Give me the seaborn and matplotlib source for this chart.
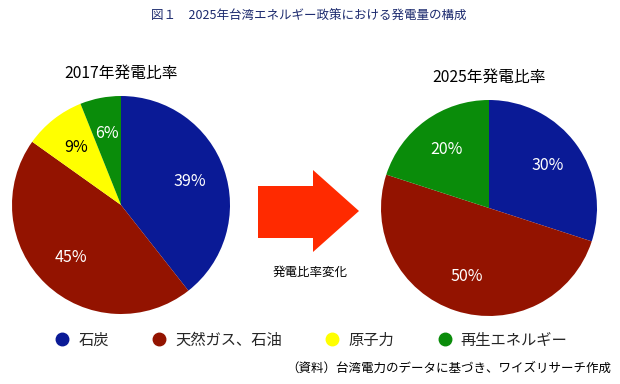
import matplotlib
matplotlib.use("Agg")
import matplotlib.pyplot as plt
import seaborn as sns
import numpy as np
from matplotlib.patches import Polygon
from matplotlib.lines import Line2D

sns.set_theme(style="white")
plt.rcParams['font.family'] = ['Noto Sans CJK JP', 'DejaVu Sans']

title = "図１　2025年台湾エネルギー政策における発電量の構成"
categories = ["石炭", "天然ガス、石油", "原子力", "再生エネルギー"]
colors = ["#0A1A96", "#931300", "#FFFF00", "#0A8C0A"]
label_colors = ["white", "white", "black", "white"]
values_2017 = [39, 45, 9, 6]
values_2025 = [30, 50, 0, 20]
title_2017 = "2017年発電比率"
title_2025 = "2025年発電比率"
arrow_label = "発電比率変化"
source = "（資料）台湾電力のデータに基づき、ワイズリサーチ作成"

W, H = 620, 384
fig = plt.figure(figsize=(W / 100, H / 100), dpi=100)
fig.patch.set_facecolor("white")

def add_pie(cx, cy, r, vals, ttl, ty):
    ax = fig.add_axes([(cx - r) / W, (H - cy - r) / H, 2 * r / W, 2 * r / H])
    trip = [(v, c, lc) for v, c, lc in zip(vals, colors, label_colors) if v > 0]
    v = [t[0] for t in trip]
    c = [t[1] for t in trip]
    lcs = [t[2] for t in trip]
    ax.pie(v, colors=c, startangle=90, counterclock=False,
           radius=1.0, wedgeprops=dict(linewidth=0))
    total = sum(v)
    ang = 90.0
    for val, lc in zip(v, lcs):
        mid = np.deg2rad(ang - val / total * 180)
        ax.text(0.67 * np.cos(mid), 0.67 * np.sin(mid), f"{val}%", color=lc,
                ha="center", va="center", fontsize=11.5)
        ang -= val / total * 360
    ax.set_xlim(-1, 1)
    ax.set_ylim(-1, 1)
    ax.set_aspect("equal")
    ax.axis("off")
    fig.text(cx / W, 1 - ty / H, ttl, ha="center", va="center", fontsize=11.3, color="black")

add_pie(121, 205, 109, values_2017, title_2017, 73)
add_pie(489, 208, 108, values_2025, title_2025, 77)

fig.text(309 / W, 1 - 16 / H, title, ha="center", va="center", fontsize=9, color="#1C2A6E")

# arrow
pts = [(258, 186), (313, 186), (313, 170), (359, 211), (313, 252), (313, 238), (258, 238)]
poly = Polygon([(x / W, 1 - y / H) for x, y in pts], closed=True,
               transform=fig.transFigure, facecolor="#FF2A00", edgecolor="none")
fig.patches.append(poly)
fig.text(310 / W, 1 - 272 / H, arrow_label, ha="center", va="center", fontsize=9, color="black")

handles = [Line2D([0], [0], marker="o", linestyle="none", markersize=9,
                  markerfacecolor=c, markeredgecolor=c) for c in colors]
fig.legend(handles, categories, loc="center", bbox_to_anchor=(311 / W, 1 - 340 / H),
           ncol=4, frameon=False, fontsize=11, columnspacing=2.8, handletextpad=0.55,
           handlelength=1.0)

fig.text(611 / W, 1 - 368 / H, source, ha="right", va="center", fontsize=9, color="black")

fig.savefig("out.png", dpi=100, facecolor="white")
